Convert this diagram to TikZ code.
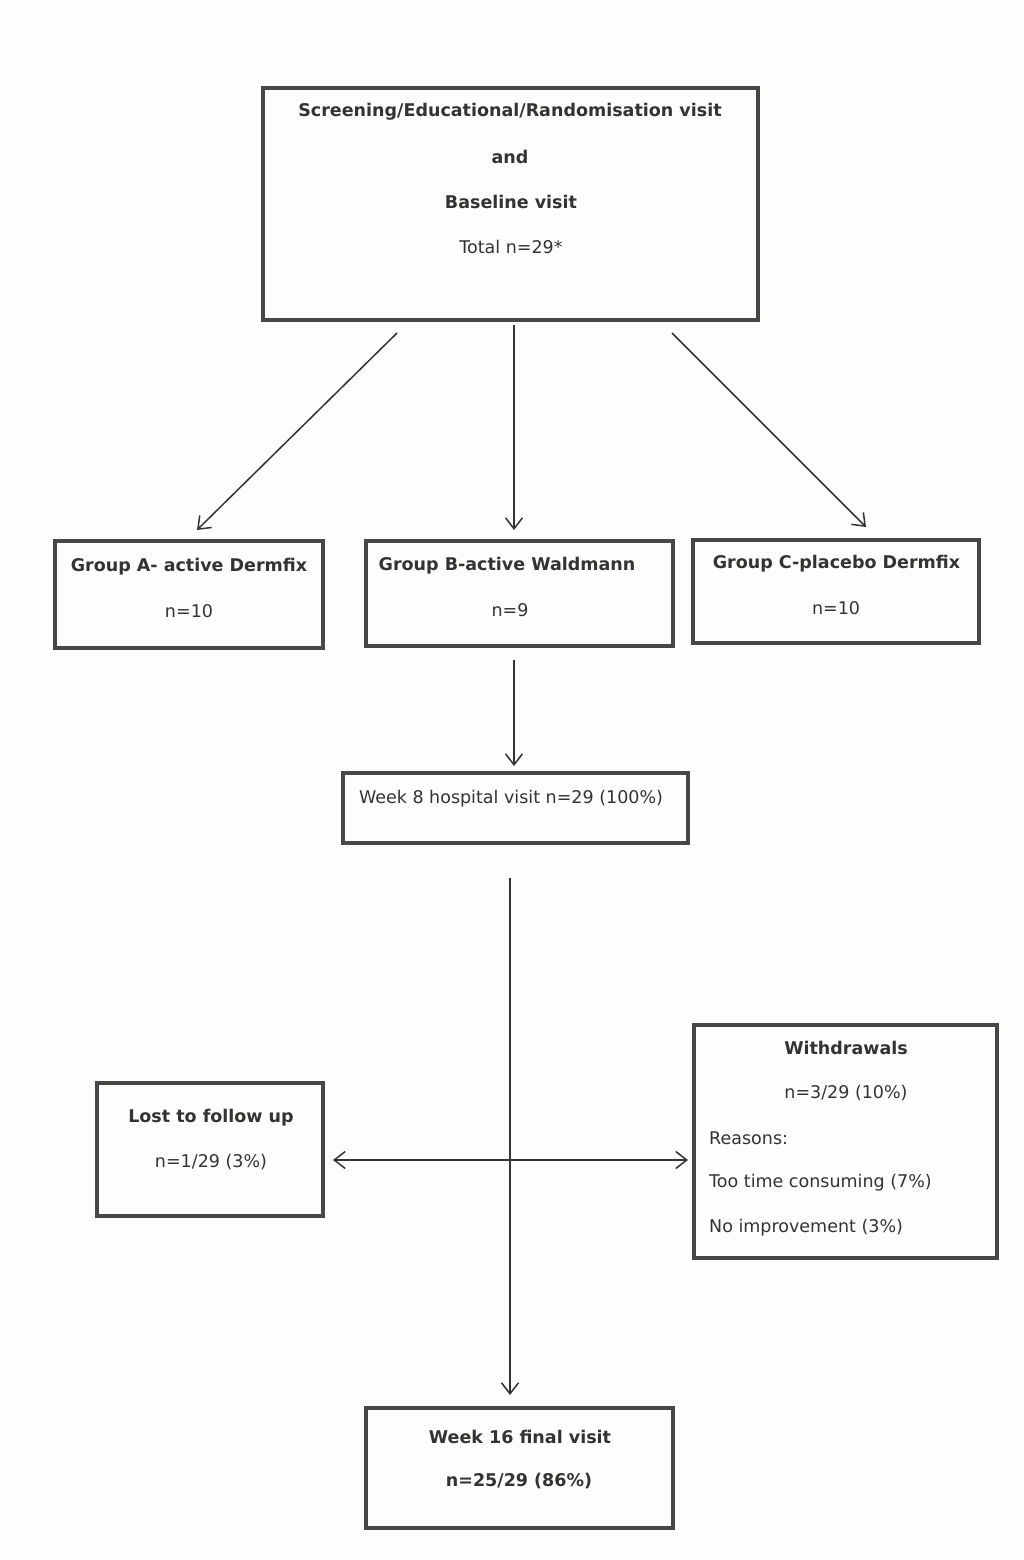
\documentclass[tikz,border=0pt]{standalone}
\usepackage{fontspec}
\setmainfont{DejaVu Sans}
\usetikzlibrary{arrows.meta}
\definecolor{ink}{HTML}{333333}
\definecolor{boxline}{HTML}{474747}
\definecolor{paper}{HTML}{FDFDFB}
\begin{document}
\begin{tikzpicture}[x=1pt,y=-1pt,
  box/.style={draw=boxline,line width=3.4pt,inner sep=0pt},
  txt/.style={text=ink,font=\fontsize{17.5}{21}\selectfont,inner sep=0pt},
  btxt/.style={text=ink,font=\fontsize{17.5}{21}\selectfont\bfseries,inner sep=0pt},
  conn/.style={draw=ink,line width=1.5pt,-{Straight Barb[length=11pt,width=17pt]}},
  conn2/.style={draw=ink,line width=1.5pt,{Straight Barb[length=11pt,width=17pt]}-{Straight Barb[length=11pt,width=17pt]}}]
\fill[paper] (0,0) rectangle (1023,1560);
\useasboundingbox (0,0) rectangle (1023,1560);

% boxes
\node[box,minimum width=495,minimum height=232] (top) at (510.5,204) {};
\node[box,minimum width=268,minimum height=107] (ga) at (189,594.5) {};
\node[box,minimum width=307,minimum height=105] (gb) at (519.5,593.5) {};
\node[box,minimum width=286,minimum height=103] (gc) at (836,591.5) {};
\node[box,minimum width=345,minimum height=70] (w8) at (515.5,808) {};
\node[box,minimum width=226,minimum height=133] (lost) at (210,1149.5) {};
\node[box,minimum width=303,minimum height=233] (wd) at (845.5,1141.5) {};
\node[box,minimum width=307,minimum height=120] (w16) at (519.5,1468) {};

% texts
\node[btxt] (t1) at (510,112) {Screening/Educational/Randomisation visit};
\node[btxt] (t2) at (510,157) {and};
\node[btxt] (t3) at (511,202) {Baseline visit};
\node[txt] (t4) at (511,247) {Total n=29*};

\node[btxt] (a1) at (189,567) {Group A- active Dermfix};
\node[txt] (a2) at (189,611) {n=10};
\node[btxt] (b1) at (507,566) {Group B-active Waldmann};
\node[txt] (b2) at (510,610) {n=9};
\node[btxt] (c1) at (836.5,564) {Group C-placebo Dermfix};
\node[txt] (c2) at (836,608) {n=10};

\node[txt] (w8t) at (511,799) {Week 8 hospital visit n=29 (100\%)};

\node[btxt] (l1) at (211,1118) {Lost to follow up};
\node[txt] (l2) at (211,1162) {n=1/29 (3\%)};

\node[btxt] (d1) at (846,1048) {Withdrawals};
\node[txt] (d2) at (846,1093) {n=3/29 (10\%)};
\node[txt,anchor=west] (d3) at (709,1138) {Reasons:};
\node[txt,anchor=west] (d4) at (709,1183) {Too time consuming (7\%)};
\node[txt,anchor=west] (d5) at (709,1228) {No improvement (3\%)};

\node[btxt] (s1) at (520,1437) {Week 16 final visit};
\node[btxt] (s2) at (519,1481) {n=25/29 (86\%)};

% connector end points
\coordinate (pa0) at (397,333);
\coordinate (pa1) at (197,530);
\coordinate (pb0) at (514,325);
\coordinate (pb1) at (514,530);
\coordinate (pc0) at (672,333);
\coordinate (pc1) at (866,527);
\coordinate (pd0) at (514,660);
\coordinate (pd1) at (514,766);
\coordinate (pe0) at (510,878);
\coordinate (pe1) at (510,1395);
\coordinate (pf0) at (333,1160);
\coordinate (pf1) at (688,1160);

\draw[conn] (pa0) -- (pa1);
\draw[conn] (pb0) -- (pb1);
\draw[conn] (pc0) -- (pc1);
\draw[conn] (pd0) -- (pd1);
\draw[conn] (pe0) -- (pe1);
\draw[conn2] (pf0) -- (pf1);
\end{tikzpicture}
\end{document}
